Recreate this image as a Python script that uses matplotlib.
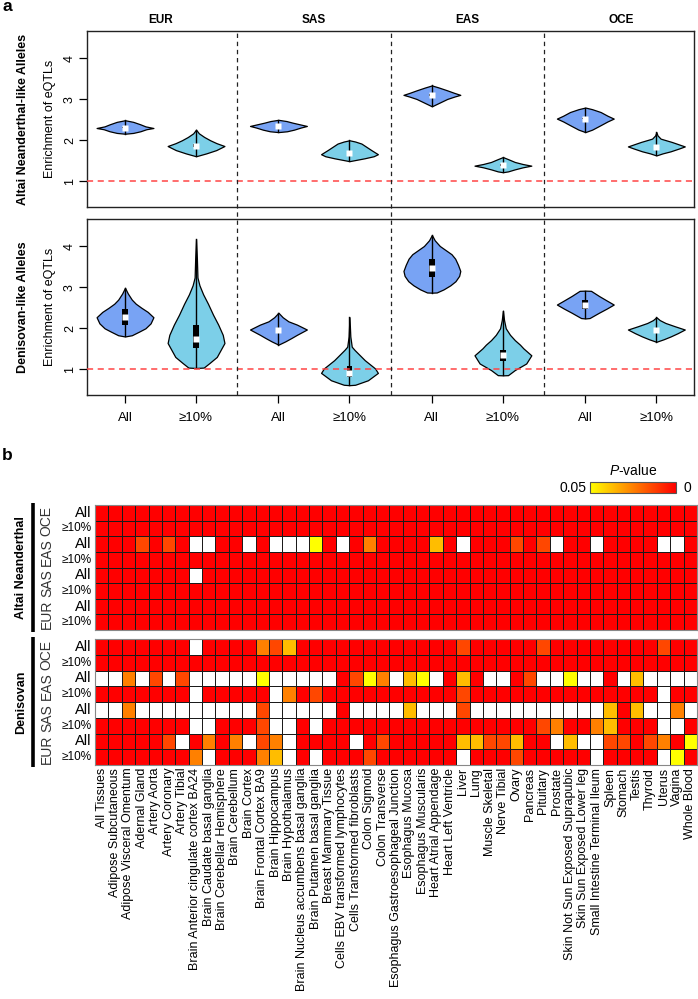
import numpy as np
import matplotlib
matplotlib.use("Agg")
import matplotlib.pyplot as plt
from matplotlib.colors import LinearSegmentedColormap, Normalize
from matplotlib.cm import ScalarMappable
from matplotlib.patches import Rectangle

plt.rcParams['font.family'] = ['Liberation Sans', 'DejaVu Sans']
plt.rcParams['mathtext.fontset'] = 'custom'
plt.rcParams['mathtext.it'] = 'Liberation Sans:italic'
plt.rcParams['mathtext.rm'] = 'Liberation Sans'

pops = ["EUR", "SAS", "EAS", "OCE"]
sets = ["All", "≥10%"]

# ---- panel a: violin outlines (enrichment level, relative density)
altai_levels = [
    [2.16, 2.18, 2.22, 2.27, 2.30, 2.34, 2.39, 2.45, 2.49],
    [1.61, 1.68, 1.76, 1.86, 1.93, 2.00, 2.08, 2.17, 2.26],
    [2.20, 2.22, 2.26, 2.31, 2.35, 2.39, 2.43, 2.47, 2.50],
    [1.49, 1.56, 1.61, 1.66, 1.76, 1.92, 1.97, 2.00],
    [2.83, 2.91, 3.01, 3.07, 3.11, 3.16, 3.22, 3.29, 3.34],
    [1.22, 1.24, 1.29, 1.34, 1.38, 1.42, 1.47, 1.54, 1.59],
    [2.20, 2.26, 2.37, 2.46, 2.53, 2.60, 2.69, 2.76, 2.80],
    [1.63, 1.68, 1.73, 1.80, 1.85, 1.91, 1.96, 2.04, 2.12, 2.20],
]
altai_density = [
    [0, 0.29, 0.54, 0.75, 1.0, 0.72, 0.54, 0.29, 0],
    [0, 0.36, 0.71, 1.0, 0.72, 0.50, 0.29, 0.10, 0],
    [0, 0.30, 0.55, 0.78, 1.0, 0.75, 0.50, 0.28, 0],
    [0, 0.53, 0.85, 1.0, 0.77, 0.42, 0.20, 0],
    [0, 0.24, 0.54, 0.80, 1.0, 0.78, 0.54, 0.24, 0],
    [0, 0.18, 0.42, 0.70, 1.0, 0.70, 0.42, 0.18, 0],
    [0, 0.24, 0.54, 0.78, 1.0, 0.78, 0.54, 0.24, 0],
    [0, 0.22, 0.50, 0.80, 1.0, 0.75, 0.54, 0.15, 0.04, 0],
]
altai_median = [2.31, 1.87, 2.35, 1.68, 3.10, 1.39, 2.53, 1.84]
altai_q1 = [2.29, 1.84, 2.33, 1.65, 3.08, 1.37, 2.51, 1.81]
altai_q3 = [2.33, 1.90, 2.37, 1.71, 3.12, 1.41, 2.55, 1.87]

deni_levels = [
    [1.80, 1.83, 1.92, 2.00, 2.12, 2.27, 2.40, 2.50, 2.60, 2.70, 2.85, 2.99],
    [1.03, 1.04, 1.15, 1.30, 1.64, 1.84, 2.09, 2.33, 2.60, 2.83, 3.05, 3.24, 3.70, 4.18],
    [1.60, 1.68, 1.76, 1.84, 1.97, 2.09, 2.17, 2.27, 2.38],
    [0.61, 0.62, 0.73, 0.91, 1.02, 1.22, 1.47, 1.55, 1.80, 2.27],
    [2.87, 2.875, 2.95, 3.05, 3.15, 3.28, 3.40, 3.55, 3.70, 3.81, 4.01, 4.15, 4.28],
    [0.85, 0.855, 0.98, 1.14, 1.34, 1.51, 1.60, 1.71, 1.84, 2.00, 2.20, 2.43],
    [2.24, 2.25, 2.38, 2.48, 2.58, 2.68, 2.79, 2.915, 2.92],
    [1.67, 1.73, 1.80, 1.88, 1.97, 2.05, 2.13, 2.20, 2.27],
]
deni_density = [
    [0, 0.24, 0.50, 0.72, 0.90, 1.0, 0.80, 0.58, 0.38, 0.24, 0.10, 0],
    [0, 0.27, 0.47, 0.73, 1.0, 0.94, 0.78, 0.60, 0.42, 0.25, 0.12, 0.05, 0.03, 0],
    [0, 0.24, 0.45, 0.65, 1.0, 0.65, 0.35, 0.15, 0],
    [0, 0.20, 0.65, 1.0, 0.90, 0.54, 0.18, 0.08, 0.03, 0],
    [0, 0.17, 0.41, 0.65, 0.83, 0.96, 1.0, 0.92, 0.82, 0.69, 0.28, 0.10, 0],
    [0, 0.18, 0.42, 0.82, 1.0, 0.72, 0.60, 0.42, 0.25, 0.10, 0.04, 0],
    [0, 0.15, 0.48, 0.75, 1.0, 0.75, 0.48, 0.20, 0],
    [0, 0.25, 0.50, 0.75, 1.0, 0.65, 0.32, 0.12, 0],
]
deni_median = [2.27, 1.74, 1.97, 0.90, 3.48, 1.35, 2.58, 1.96]
deni_q1 = [2.09, 1.52, 1.93, 0.81, 3.26, 1.20, 2.46, 1.93]
deni_q3 = [2.46, 2.09, 2.01, 1.07, 3.69, 1.48, 2.70, 2.00]

# ---- panel b: p-value codes per tissue (r=~0, d/o/a = intermediate, y=0.05, . = not significant)
tissues = [
    "All Tissues", "Adipose Subcutaneous", "Adipose Visceral Omentum", "Adernal Gland",
    "Artery Aorta", "Artery Coronary", "Artery Tibial", "Brain Anterior cingulate cortex BA24",
    "Brain Caudate basal ganglia", "Brain Cerebellar Hemisphere", "Brain Cerebellum",
    "Brain Cortex", "Brain Frontal Cortex BA9", "Brain Hippocampus", "Brain Hypothalamus",
    "Brain Nucleus accumbens basal ganglia", "Brain Putamen basal ganglia",
    "Breast Mammary Tissue", "Cells EBV transformed lymphocytes", "Cells Transformed fibroblasts",
    "Colon Sigmoid", "Colon Transverse", "Esophagus Gastroesophageal Junction",
    "Esophagus Mucosa", "Esophagus Muscularis", "Heart Atrial Appendage", "Heart Left Ventricle",
    "Liver", "Lung", "Muscle Skeletal", "Nerve Tibial", "Ovary", "Pancreas", "Pituitary",
    "Prostate", "Skin Not Sun Exposed Suprapubic", "Skin Sun Exposed Lower leg",
    "Small Intestine Terminal Ileum", "Spleen", "Stomach", "Testis", "Thyroid", "Uterus",
    "Vagina", "Whole Blood",
]
row_pops = ["OCE", "EAS", "SAS", "EUR"]
code_p = {'r': 0.0, 'd': 0.014, 'o': 0.025, 'a': 0.037, 'y': 0.05, '.': np.nan}

# rows top to bottom: OCE All, OCE >=10%, EAS All, EAS >=10%, SAS All, SAS >=10%, EUR All, EUR >=10%
altai_rows = [
    "r" * 45,
    "r" * 45,
    "rrrdrdr..rr.r...yr." + "rorrrrar.rrrdrd.rr.rrrr..r",
    "r" * 45,
    "rrrrrrr." + "r" * 37,
    "r" * 45,
    "r" * 45,
    "r" * 45,
]
deni_rows = [
    "rrrrrrr.rrrroda" + "r" * 12 + "d" + "r" * 5 + "d" + "r" * 8 + "drr",
    "r" * 45,
    "..o.d.d.....y.....rdyo.ay.rar..rd..y..r.a....",
    "rrrrrrr.rrrrr.ordrrrrrrrrrrd" + "r" * 14 + ".rr",
    "..o" + "." * 9 + "d" + "." * 5 + "r" + "." * 4 + "a" + "." * 3 + "d" + "." * 10 + "ara..o.",
    "rrrrrrr..rrrd..r." + "r" * 16 + "dorroarrr..r",
    "rrrrrd.roro.do.rrrr.rdrrrrr" + "aaddarr" + ".a..ddrdory",
    "rrrrrrro.rrroa.r.rrrdrrrrrr.rrrdrrrrr.rrrr.yr",
]

ALL_COL = "#78A3F4"
TEN_COL = "#7CCFE8"

fig = plt.figure(figsize=(6.98, 9.99), dpi=100)
W, H = 698.0, 999.0


def fbox(x0, y0, x1, y1):
    return [x0 / W, 1 - y1 / H, (x1 - x0) / W, (y1 - y0) / H]


pos = [g * 2.16 + k for g in range(4) for k in (0, 1)]
dividers = [g * 2.16 - 0.58 for g in (1, 2, 3)]
XL = (-0.535, 8.01)
YL = (0.37, 4.67)

ax1 = fig.add_axes(fbox(87, 31, 694, 207))
ax2 = fig.add_axes(fbox(87, 219, 694, 395))


def draw_violins(ax, levels, dens, med, q1, q3):
    for i in range(len(pos)):
        x0 = pos[i]
        lv = np.array(levels[i])
        w = 0.4 * np.array(dens[i])
        ax.fill_betweenx(lv, x0 - w, x0 + w, facecolor=ALL_COL if i % 2 == 0 else TEN_COL,
                         edgecolor="black", lw=0.9, zorder=2)
        ax.plot([x0, x0], [lv[0], lv[-1]], color="black", lw=1.0, zorder=3)
        ax.add_patch(Rectangle((x0 - 0.04, q1[i]), 0.08, q3[i] - q1[i],
                               facecolor="black", edgecolor="none", zorder=3))
        ax.plot(x0, med[i], "s", color="white", ms=3.8, mec="none", zorder=4)
    ax.axhline(1, color="#FF4545", ls=(0, (4, 3)), lw=1.1, zorder=5)
    ax.set_xlim(*XL)
    ax.set_ylim(*YL)
    ax.set_yticks([1, 2, 3, 4])
    ax.tick_params(axis="y", labelrotation=90, labelsize=9, length=6, width=0.9, pad=2)
    for lab in ax.get_yticklabels():
        lab.set_va("center")
    for s in ax.spines.values():
        s.set_linewidth(1.0)
        s.set_color("#222222")


draw_violins(ax1, altai_levels, altai_density, altai_median, altai_q1, altai_q3)
draw_violins(ax2, deni_levels, deni_density, deni_median, deni_q1, deni_q3)
ax1.tick_params(axis="x", bottom=False, labelbottom=False)
ax2.set_xticks(pos)
ax2.set_xticklabels(sets * 4)
ax2.tick_params(axis="x", labelsize=9.5, length=6, width=0.9, pad=6)

for g, p in enumerate(pops):
    ax1.text(g * 2.16 + 0.5, 1.063, p, transform=ax1.get_xaxis_transform(),
             ha="center", va="center", fontsize=8.5, fontweight="bold")

# dashed dividers running through both violin panels
ov = fig.add_axes(fbox(87, 31, 694, 395))
ov.set_xlim(*XL)
ov.axis("off")
ov.patch.set_alpha(0)
for d in dividers:
    ov.axvline(d, color="#222222", ls=(0, (3.5, 3)), lw=0.9)

fig.text(50 / W, 1 - 119 / H, "Enrichment of eQTLs", rotation=90, ha="center", va="center", fontsize=9)
fig.text(50 / W, 1 - 307 / H, "Enrichment of eQTLs", rotation=90, ha="center", va="center", fontsize=9)
fig.text(23 / W, 1 - 119 / H, "Altai Neanderthal-like Alleles", rotation=90, ha="center",
         va="center", fontsize=9, fontweight="bold")
fig.text(23 / W, 1 - 307 / H, "Denisovan-like Alleles", rotation=90, ha="center",
         va="center", fontsize=9, fontweight="bold")
fig.text(0.003, 1 - 11 / H, "a", fontsize=12.5, fontweight="bold", va="baseline")
fig.text(0.003, 1 - 460 / H, "b", fontsize=12.5, fontweight="bold", va="baseline")

# ---- panel b heatmaps
cmap = LinearSegmentedColormap.from_list("ry", ["#FF0000", "#FFFF00"])
cmap.set_bad("white")
norm = Normalize(vmin=0, vmax=0.05)


def to_matrix(rows):
    return np.ma.masked_invalid(np.array([[code_p[c] for c in r] for r in rows]))


hm1 = fig.add_axes(fbox(95, 505, 697, 630))
hm2 = fig.add_axes(fbox(95, 639, 697, 765))
for ax, rows, name in [(hm1, altai_rows, "Altai Neanderthal"), (hm2, deni_rows, "Denisovan")]:
    m = to_matrix(rows)
    ax.pcolormesh(np.arange(46), np.arange(9), m, cmap=cmap, norm=norm,
                  edgecolors="#1a1a1a", linewidth=0.6)
    ax.set_xlim(0, 45)
    ax.set_ylim(8, 0)
    ax.set_yticks([])
    for s in ax.spines.values():
        s.set_color("#888888")
        s.set_linewidth(0.8)
    for r in range(8):
        lab = sets[r % 2]
        ax.text(-0.25, r + 0.5, lab, ha="right", va="center",
                fontsize=10.5 if lab == "All" else 8.5)
    for g, p in enumerate(row_pops):
        ax.text(-3.6, 2 * g + 1, p, rotation=90, ha="center", va="center",
                fontsize=10, color="#333333")
    ax.plot([-4.65, -4.65], [-0.15, 8.1], color="black", lw=2.6, clip_on=False,
            solid_capstyle="butt")
    ax.text(-5.5, 4, name, rotation=90, ha="center", va="center", fontsize=9,
            fontweight="bold")

hm1.set_xticks([])
hm2.set_xticks(np.arange(45) + 0.5)
hm2.set_xticklabels(tissues, rotation=90, fontsize=9)
hm2.tick_params(axis="x", length=0, pad=2)

cax = fig.add_axes(fbox(590, 482, 676, 493))
cb = fig.colorbar(ScalarMappable(norm=norm, cmap=cmap), cax=cax, orientation="horizontal")
cax.invert_xaxis()
cb.set_ticks([])
cb.outline.set_edgecolor("#555555")
cb.outline.set_linewidth(0.8)
fig.text(633 / W, 1 - 471 / H, "$\\it{P}$-value", ha="center", va="center", fontsize=10)
fig.text(586 / W, 1 - 488 / H, "0.05", ha="right", va="center", fontsize=10)
fig.text(683 / W, 1 - 488 / H, "0", ha="left", va="center", fontsize=10)

fig.savefig("out.png", dpi=100)
